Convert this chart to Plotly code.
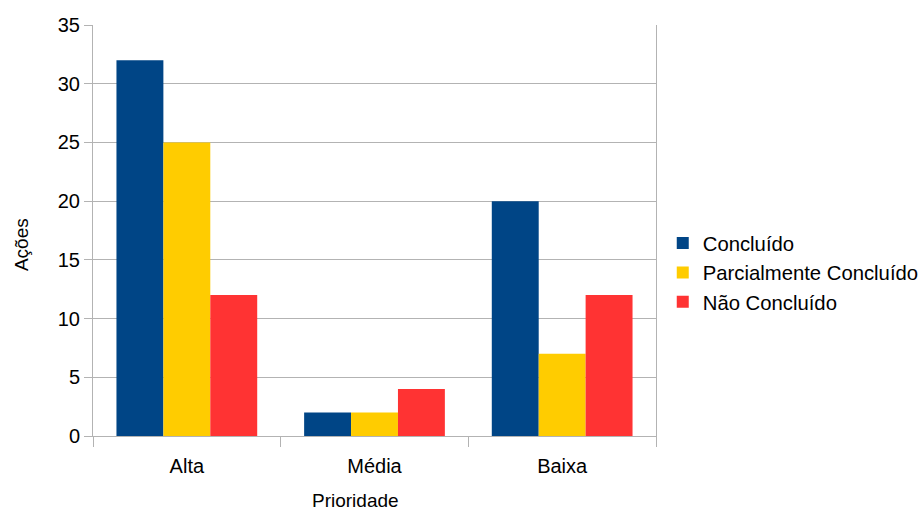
import plotly.graph_objects as go

# Priority categories and action counts per status
categorias = ["Alta", "Média", "Baixa"]
concluido = [32, 2, 20]
parcial = [25, 2, 7]
nao_concluido = [12, 4, 12]

series = [
    ("Concluído", concluido, "#004586"),
    ("Parcialmente Concluído", parcial, "#ffcc00"),
    ("Não Concluído", nao_concluido, "#ff3333"),
]

fig = go.Figure()
for nome, valores, cor in series:
    fig.add_trace(go.Bar(
        x=categorias, y=valores, name=nome,
        marker=dict(color=cor, line=dict(width=0)),
    ))

grid = "#b3b3b3"
font = "Liberation Sans, Arial, sans-serif"

fig.update_layout(
    width=924, height=511,
    margin=dict(l=93, r=268, t=25, b=75, autoexpand=False),
    paper_bgcolor="white", plot_bgcolor="white",
    font=dict(family=font, size=20, color="black"),
    barmode="group", bargap=0.25, bargroupgap=0,
    legend=dict(
        x=1.012, xanchor="left", y=0.397, yanchor="middle",
        font=dict(size=20.3), itemwidth=30, traceorder="normal",
        bgcolor="rgba(0,0,0,0)",
    ),
    xaxis=dict(
        showline=True, linecolor=grid, linewidth=1,
        ticks="outside", tickson="boundaries", ticklen=10, tickcolor=grid,
        ticklabelstandoff=12,
        showgrid=False,
    ),
    yaxis=dict(
        range=[0, 35], dtick=5,
        showline=True, linecolor=grid, linewidth=1, mirror=True,
        ticks="outside", ticklen=8, tickcolor=grid,
        showgrid=True, gridcolor=grid, gridwidth=1,
        zeroline=False,
    ),
    annotations=[
        # axis titles
        dict(text="Prioridade", xref="paper", yref="paper",
             x=0.4654, y=-0.158, xanchor="center", yanchor="middle",
             showarrow=False, font=dict(size=19)),
        dict(text="Ações", xref="paper", yref="paper",
             x=-0.1279, y=0.467, xanchor="center", yanchor="middle",
             textangle=-90, showarrow=False, font=dict(size=19)),
    ],
)

fig.write_html("out.html")
